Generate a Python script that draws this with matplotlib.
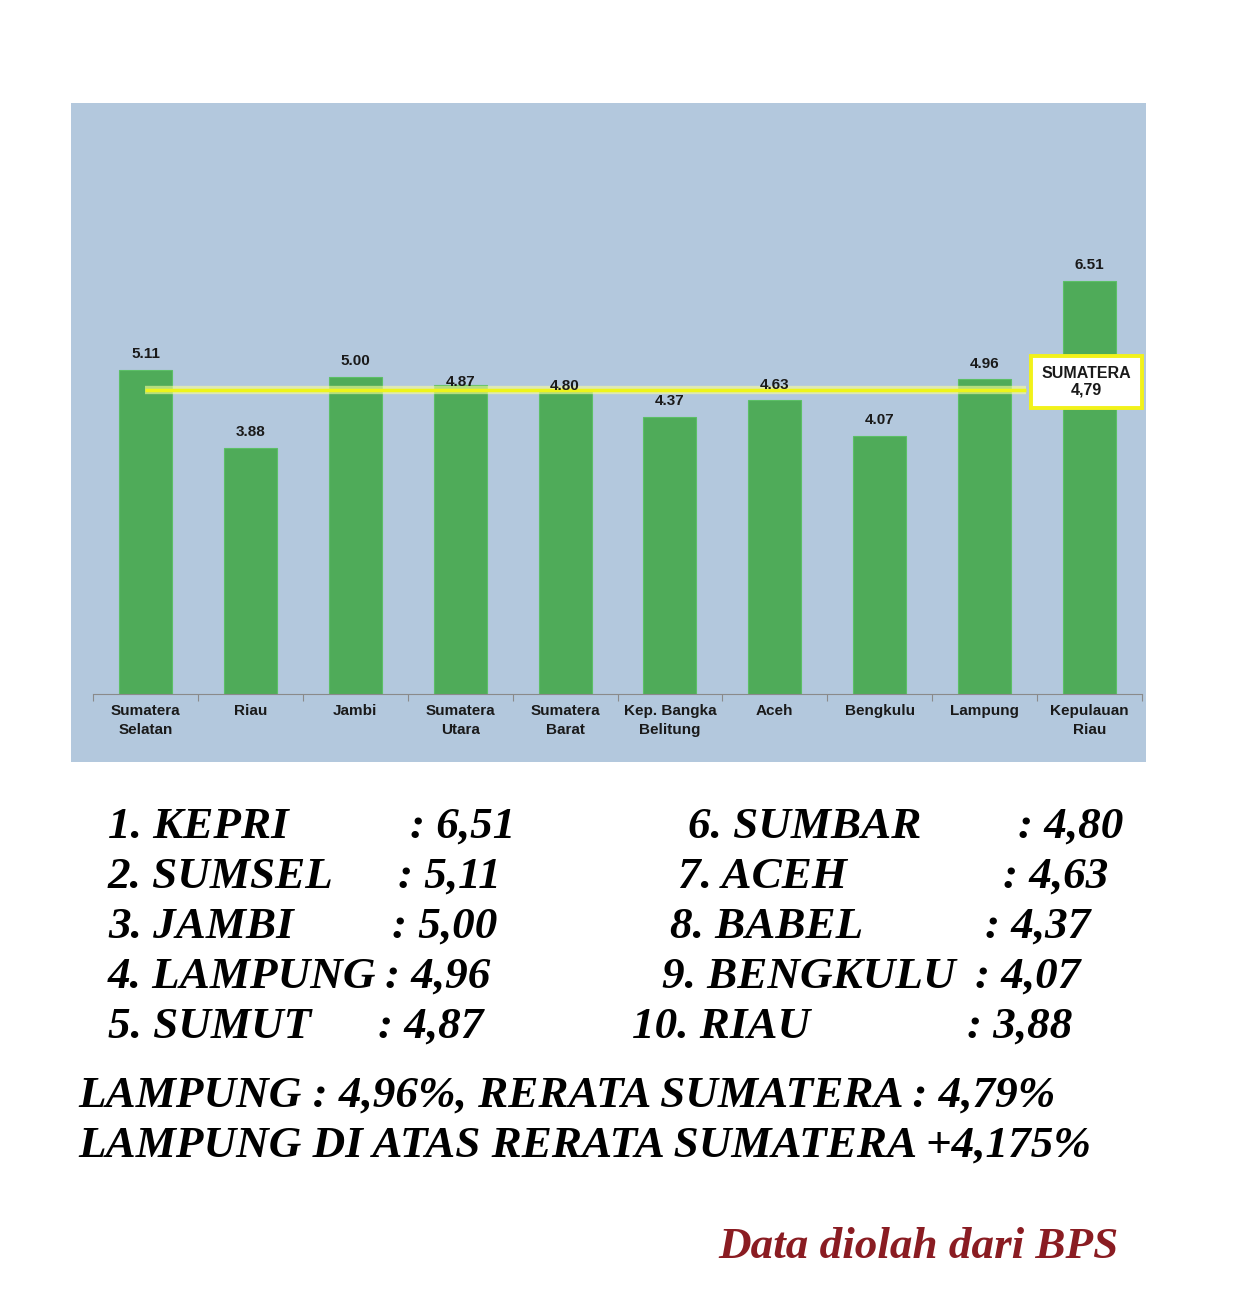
import numpy as np
import matplotlib
matplotlib.use("Agg")
import matplotlib.pyplot as plt
from matplotlib.patches import Rectangle

# data
provinces = ["Sumatera\nSelatan", "Riau", "Jambi", "Sumatera\nUtara", "Sumatera\nBarat",
             "Kep. Bangka\nBelitung", "Aceh", "Bengkulu", "Lampung", "Kepulauan\nRiau"]
growth = [5.11, 3.88, 5.00, 4.87, 4.80, 4.37, 4.63, 4.07, 4.96, 6.51]
sumatera_avg = 4.79

rank_left_names = ["1. KEPRI", "2. SUMSEL", "3. JAMBI", "4. LAMPUNG", "5. SUMUT"]
rank_left_vals = [": 6,51", ": 5,11", ": 5,00", ": 4,96", ": 4,87"]
rank_right_names = ["6. SUMBAR", "7. ACEH", "8. BABEL", "9. BENGKULU", "10. RIAU"]
rank_right_vals = [": 4,80", ": 4,63", ": 4,37", ": 4,07", ": 3,88"]

summary = ["LAMPUNG : 4,96%, RERATA SUMATERA : 4,79%",
           "LAMPUNG DI ATAS RERATA SUMATERA +4,175%"]
source = "Data diolah dari BPS"

W, H = 1242, 1294
fig = plt.figure(figsize=(W / 100, H / 100), dpi=100)
fig.patch.set_facecolor("white")

def fx(px):
    return px / W

def fy(py):
    return 1 - py / H

# blue panel behind the chart
fig.add_artist(Rectangle((fx(71), fy(762)), fx(1146) - fx(71), fy(103) - fy(762),
                         transform=fig.transFigure, facecolor="#b3c8dd", edgecolor="none", zorder=0))

ax = fig.add_axes([fx(93), fy(694), fx(1142) - fx(93), fy(103) - fy(694)])
ax.patch.set_alpha(0)
x = np.arange(len(growth))
ax.bar(x, growth, width=0.505, color="#4fab59", edgecolor="#5cbf66", linewidth=0.8, zorder=2)
ax.set_xlim(-0.5, len(growth) - 0.5)
ax.set_ylim(0, 9.32)

# labels near the average line sit lower, as in the source chart
label_gap = [0.14, 0.14, 0.14, -0.06, -0.06, 0.14, 0.14, 0.14, 0.14, 0.14]
for xi, v, g in zip(x, growth, label_gap):
    ax.text(xi, v + g, f"{v:.2f}", ha="center", va="bottom", fontsize=11,
            fontweight="bold", color="#1a1a1a", family="Liberation Sans", zorder=4)

# average line with glow
ax.plot([0, 8.39], [sumatera_avg, sumatera_avg], color="#fbff9a", lw=6, alpha=0.6, zorder=3,
        solid_capstyle="butt")
ax.plot([0, 8.39], [sumatera_avg, sumatera_avg], color="#eef51a", lw=2.5, zorder=3,
        solid_capstyle="butt")
ax.text(8.97, 4.92, "SUMATERA\n" + f"{sumatera_avg:.2f}".replace(".", ","), ha="center",
        va="center", fontsize=11.5, fontweight="bold", color="#1a1a1a", family="Liberation Sans",
        linespacing=1.1, zorder=5,
        bbox=dict(boxstyle="square,pad=0.68", facecolor="white", edgecolor="#f2f21a", linewidth=2.8))

for s in ["top", "right", "left"]:
    ax.spines[s].set_visible(False)
ax.spines["bottom"].set_color("#8a8a8a")
ax.spines["bottom"].set_linewidth(0.8)
ax.set_yticks([])
ax.set_xticks(x)
ax.set_xticklabels(provinces, fontsize=11, fontweight="bold", color="#1a1a1a",
                   family="Liberation Sans", linespacing=1.45)
ax.tick_params(axis="x", length=0, pad=7)
ax.set_xticks(np.arange(-0.5, len(growth)), minor=True)
ax.tick_params(axis="x", which="minor", length=5, color="#8a8a8a", width=0.8)

# ranking text
tf = dict(family="Liberation Serif", fontweight="bold", style="italic", fontsize=32.5,
          color="black", va="baseline", ha="left")
row_y = [838, 888, 938, 988, 1038]
left_name_x = [108, 108, 108, 108, 108]
left_val_x = [410, 398, 392, 385, 378]
right_name_x = [688, 678, 670, 662, 632]
right_val_x = [1018, 1003, 985, 975, 967]
for i in range(5):
    fig.text(fx(left_name_x[i]), fy(row_y[i]), rank_left_names[i], **tf)
    fig.text(fx(left_val_x[i]), fy(row_y[i]), rank_left_vals[i], **tf)
    fig.text(fx(right_name_x[i]), fy(row_y[i]), rank_right_names[i], **tf)
    fig.text(fx(right_val_x[i]), fy(row_y[i]), rank_right_vals[i], **tf)

fig.text(fx(78), fy(1107), summary[0], **tf)
fig.text(fx(78), fy(1157), summary[1], **tf)
src = dict(tf)
src["color"] = "#8a1c22"
fig.text(fx(718), fy(1258), source, **src)

fig.savefig("out.png", dpi=100)
